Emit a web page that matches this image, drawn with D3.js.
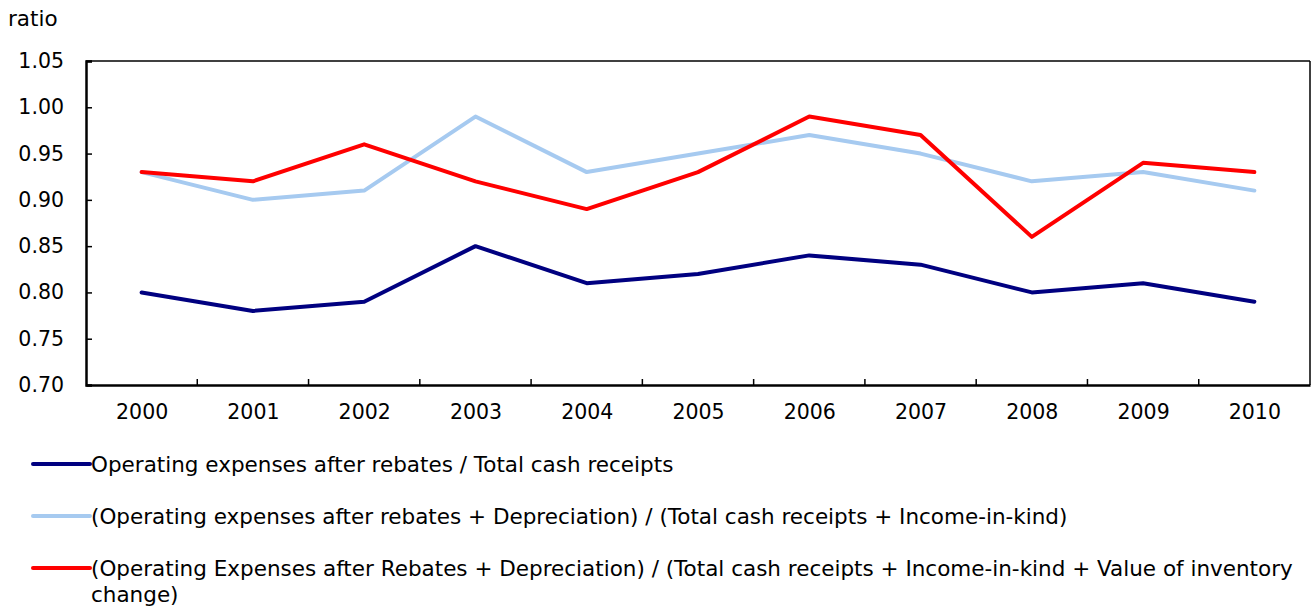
<!DOCTYPE html>
<html><head><meta charset="utf-8">
<script src="https://cdn.jsdelivr.net/npm/d3@7/dist/d3.min.js"></script>
<style>body{margin:0;background:#fff}svg{display:block}text{font-family:"DejaVu Sans",Verdana,sans-serif;fill:#000}</style>
</head><body><svg id="c" width="1315" height="606"></svg>
<script>
const years = ["2000","2001","2002","2003","2004","2005","2006","2007","2008","2009","2010"];
const yTicks = [0.70,0.75,0.80,0.85,0.90,0.95,1.00,1.05];
const seriesNames = [
  "Operating expenses after rebates / Total cash receipts",
  "(Operating expenses after rebates + Depreciation) / (Total cash receipts + Income-in-kind)",
  "(Operating Expenses after Rebates + Depreciation) / (Total cash receipts + Income-in-kind + Value of inventory|change)"
];
const seriesColors = ["#000080","#a6caf0","#ff0000"];
const s1 = [0.80,0.78,0.79,0.85,0.81,0.82,0.84,0.83,0.80,0.81,0.79];
const s2 = [0.93,0.90,0.91,0.99,0.93,0.95,0.97,0.95,0.92,0.93,0.91];
const s3 = [0.93,0.92,0.96,0.92,0.89,0.93,0.99,0.97,0.86,0.94,0.93];
const allSeries = [s1,s2,s3];

const svg = d3.select("#c");
const L=86, R=1310, T=61, B=385;
const x = d3.scalePoint().domain(years).range([L,R]).padding(0.5);
const xb = d3.scaleBand().domain(years).range([L,R]);
const y = d3.scaleLinear().domain([0.70,1.05]).range([B,T]);

// frame top/right
svg.append("line").attr("x1",L).attr("x2",R).attr("y1",T).attr("y2",T).attr("stroke","#000").attr("stroke-width",1.5);
svg.append("line").attr("x1",R).attr("x2",R).attr("y1",T).attr("y2",B).attr("stroke","#000").attr("stroke-width",1.5);

// y axis
const ya = svg.append("g").attr("transform",`translate(${L},0)`)
  .call(d3.axisLeft(y).tickValues(yTicks).tickFormat(d3.format(".2f")).tickSize(-6).tickPadding(22));
ya.select(".domain").attr("stroke-width",2.5);
ya.selectAll(".tick line").attr("stroke-width",1.5);
ya.selectAll(".tick text").attr("font-size",20.5).attr("font-family","DejaVu Sans").attr("fill","#000");

// x axis
const xa = svg.append("g").attr("transform",`translate(0,${B})`)
  .call(d3.axisBottom(x).tickSize(0).tickPadding(19));
xa.select(".domain").attr("stroke-width",2.5);
xa.selectAll(".tick text").attr("font-size",20.5).attr("font-family","DejaVu Sans").attr("fill","#000");
// boundary ticks
svg.append("g").selectAll("line").data(years.slice(1)).join("line")
  .attr("x1",d=>xb(d)).attr("x2",d=>xb(d)).attr("y1",B).attr("y2",B-6)
  .attr("stroke","#000").attr("stroke-width",1.5);

svg.append("text").attr("x",8).attr("y",26).attr("font-size",21.5).text("ratio");

const line = d3.line().x((d,i)=>x(years[i])).y(d=>y(d));
allSeries.forEach((s,k)=>{
  svg.append("path").datum(s).attr("d",line).attr("fill","none")
    .attr("stroke",seriesColors[k]).attr("stroke-width",4).attr("stroke-linejoin","round").attr("stroke-linecap","round");
});

// legend
const legY = [464,516,568];
seriesNames.forEach((n,k)=>{
  svg.append("line").attr("x1",33).attr("x2",90).attr("y1",legY[k]).attr("y2",legY[k])
    .attr("stroke",seriesColors[k]).attr("stroke-width",4).attr("stroke-linecap","round");
  const parts = n.split("|");
  parts.forEach((p,j)=>{
    svg.append("text").attr("x",91).attr("y",legY[k]+8+j*26).attr("font-size",21.5).text(p);
  });
});
</script></body></html>
